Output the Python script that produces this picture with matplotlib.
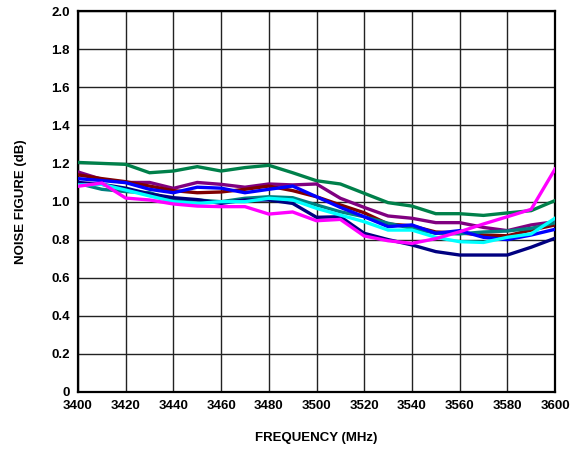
import matplotlib
matplotlib.use("Agg")
import matplotlib.pyplot as plt
from matplotlib.ticker import FixedLocator

plt.rcParams['font.family'] = ['Liberation Sans', 'DejaVu Sans']

freq = [3400, 3410, 3420, 3430, 3440, 3450, 3460, 3470, 3480, 3490, 3500,
        3510, 3520, 3530, 3540, 3550, 3560, 3570, 3580, 3590, 3600]

green = [1.205, 1.20, 1.195, 1.151, 1.16, 1.183, 1.16, 1.178, 1.19, 1.151, 1.109,
         1.092, 1.043, 0.994, 0.976, 0.936, 0.936, 0.927, 0.94, 0.952, 1.005]
purple = [1.155, 1.116, 1.10, 1.10, 1.069, 1.10, 1.09, 1.075, 1.092, 1.087, 1.092,
          1.017, 0.969, 0.924, 0.912, 0.889, 0.889, 0.864, 0.847, 0.877, 0.894]
maroon = [1.14, 1.12, 1.104, 1.081, 1.057, 1.046, 1.05, 1.064, 1.081, 1.057, 1.025,
          0.982, 0.941, 0.882, 0.872, 0.84, 0.835, 0.824, 0.82, 0.85, 0.877]
blue = [1.12, 1.11, 1.099, 1.064, 1.046, 1.075, 1.07, 1.046, 1.064, 1.081, 1.025,
        0.969, 0.92, 0.868, 0.877, 0.833, 0.847, 0.812, 0.80, 0.824, 0.854]
navy = [1.10, 1.09, 1.07, 1.04, 1.02, 1.01, 0.99, 1.008, 1.008, 0.99, 0.917,
        0.92, 0.833, 0.80, 0.772, 0.737, 0.719, 0.719, 0.719, 0.76, 0.807]
teal = [1.095, 1.064, 1.052, 1.046, 1.008, 1.008, 0.999, 1.017, 1.025, 1.02, 0.982,
        0.946, 0.92, 0.886, 0.859, 0.833, 0.83, 0.84, 0.845, 0.859, 0.888]
cyan = [1.087, 1.09, 1.06, 1.029, 0.999, 0.99, 0.999, 0.999, 1.017, 1.008, 0.964,
        0.929, 0.894, 0.85, 0.85, 0.812, 0.789, 0.785, 0.812, 0.83, 0.912]
magenta = [1.08, 1.097, 1.018, 1.008, 0.987, 0.976, 0.973, 0.973, 0.934, 0.945, 0.899,
           0.906, 0.819, 0.794, 0.78, 0.805, 0.841, 0.882, 0.92, 0.959, 1.17]

series = [
    (green, '#00804A'),
    (purple, '#800080'),
    (maroon, '#800000'),
    (teal, '#008080'),
    (navy, '#000080'),
    (blue, '#0000FF'),
    (cyan, '#00FFFF'),
    (magenta, '#FF00FF'),
]

x_ticks = list(range(3400, 3601, 20))
y_ticks = [0, 0.2, 0.4, 0.6, 0.8, 1.0, 1.2, 1.4, 1.6, 1.8, 2.0]
y_labels = ['0', '0.2', '0.4', '0.6', '0.8', '1.0', '1.2', '1.4', '1.6', '1.8', '2.0']

fig = plt.figure(figsize=(5.81, 4.49), dpi=100)
ax = fig.add_axes([78/581, 57/449, 477/581, 381/449])

for vals, col in series:
    ax.plot(freq, vals, color=col, lw=2.4, solid_joinstyle='miter', zorder=3)

ax.set_xlim(3400, 3600)
ax.set_ylim(0, 2.0)
ax.xaxis.set_major_locator(FixedLocator(x_ticks))
ax.yaxis.set_major_locator(FixedLocator(y_ticks))
ax.set_xticklabels([str(v) for v in x_ticks])
ax.set_yticklabels(y_labels)
ax.grid(True, color='#222222', lw=1.0, zorder=1)
ax.tick_params(length=0, pad=6, labelsize=9.5)
for lab in ax.get_xticklabels() + ax.get_yticklabels():
    lab.set_fontweight('bold')
for s in ax.spines.values():
    s.set_linewidth(1.6)
    s.set_color('black')

ax.set_xlabel('FREQUENCY (MHz)', fontsize=9.5, fontweight='bold', labelpad=14)
ax.set_ylabel('NOISE FIGURE (dB)', fontsize=9.5, fontweight='bold', labelpad=17)

fig.savefig('out.png', dpi=100)
